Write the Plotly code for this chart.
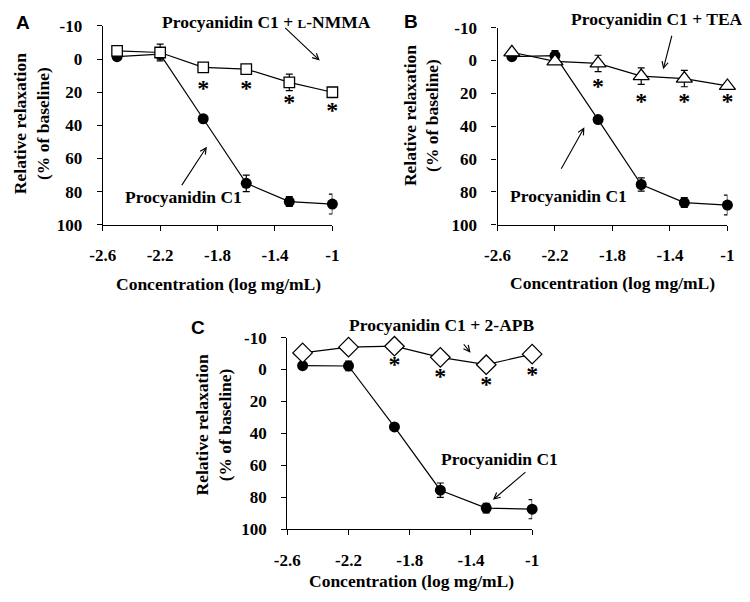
import plotly.graph_objects as go

# shared x positions (log mg/mL)
conc = [-2.5, -2.2, -1.9, -1.6, -1.3, -1.0]
sig_conc = [-1.9, -1.6, -1.3, -1.0]

# panel A
a_pc1 = [-1.5, -3, 36, 75, 86, 87.5]
a_pc1_err = [0, 3, 1.5, 5, 3, 6]
a_nmma = [-5, -4, 5, 6, 14, 20]
a_nmma_err = [0, 5, 2.5, 1, 5, 2.5]
a_sig = [18.5, 18.5, 27, 32]

# panel B
b_pc1 = [-2.3, -3, 36, 75.5, 86.5, 88]
b_pc1_err = [0, 3, 1.5, 4, 3, 6]
b_tea = [-5, 0.5, 1.8, 9.5, 11, 15.5]
b_tea_err = [0, 0, 5, 5, 5, 1]
b_sig = [17, 26, 26, 26]

# panel C
c_pc1 = [-2.4, -2.2, 36, 75.6, 86.8, 87.5]
c_pc1_err = [0, 3, 1.5, 4.5, 3, 6]
c_apb = [-10.4, -14, -14.6, -7.6, -3, -9.6]
c_apb_err = [2.5, 0, 2.5, 3, 2.5, 0]
c_sig = [-2, 5.6, 10.6, 4.4]

# the top tick sits one full step above 0 but is labelled -10 in the original
y_ticks = [-20, 0, 20, 40, 60, 80, 100]
y_ticktext = ["-10", "0", "20", "40", "60", "80", "100"]
x_ticks = [-2.6, -2.2, -1.8, -1.4, -1.0]
x_ticktext = ["-2.6", "-2.2", "-1.8", "-1.4", "-1"]

SERIF = "Liberation Serif, DejaVu Serif, serif"
SANS = "Liberation Sans, Arial, sans-serif"
# page body has an 8px margin, so work in window pixels and shift
OFF = 8
W, H = 742, 586


def px(x):
    return (x - OFF) / W


def py(y):
    return 1 - (y - OFF) / H


fig = go.Figure()


def add_panel(n, pc1, pc1_err, other, other_err, sym, sym_size, sig):
    xa = "x" if n == 1 else f"x{n}"
    ya = "y" if n == 1 else f"y{n}"
    fig.add_trace(go.Scatter(
        x=conc, y=pc1, xaxis=xa, yaxis=ya, mode="lines+markers", cliponaxis=False,
        line=dict(color="black", width=1.2),
        marker=dict(symbol="circle", size=11, color="black"),
        error_y=dict(type="data", array=pc1_err, color="black", thickness=1.2, width=3.5),
    ))
    fig.add_trace(go.Scatter(
        x=conc, y=other, xaxis=xa, yaxis=ya, mode="lines+markers", cliponaxis=False,
        line=dict(color="black", width=1.2),
        marker=dict(symbol=sym, size=sym_size, color="white", line=dict(color="black", width=1.3)),
        error_y=dict(type="data", array=other_err, color="black", thickness=1.2, width=3.5),
    ))
    fig.add_trace(go.Scatter(
        x=sig_conc, y=sig, xaxis=xa, yaxis=ya, mode="text", text=["*"] * len(sig),
        cliponaxis=False,
        textfont=dict(family=SERIF, size=24, color="#000000", weight="bold"),
    ))


add_panel(1, a_pc1, a_pc1_err, a_nmma, a_nmma_err, "square", 10.5, a_sig)
add_panel(2, b_pc1, b_pc1_err, b_tea, b_tea_err, "triangle-up", 14, b_sig)
add_panel(3, c_pc1, c_pc1_err, c_apb, c_apb_err, "diamond", 15, c_sig)

axis_common = dict(
    showgrid=False, zeroline=False, showline=True, linecolor="black", linewidth=1.3,
    ticks="outside", ticklen=5, tickcolor="black", tickwidth=1.3,
    tickfont=dict(family=SERIF, size=17, color="black", weight="bold"),
)

# plot areas in window pixels: (left, right, top, bottom)
boxes = {
    1: (92, 328, 17.3, 222.7),
    2: (497.7, 734, 19, 222.7),
    3: (281.7, 533.3, 339.3, 537.3),
}
for n, (l, r, t, b) in boxes.items():
    xk = "xaxis" if n == 1 else f"xaxis{n}"
    yk = "yaxis" if n == 1 else f"yaxis{n}"
    ya = "y" if n == 1 else f"y{n}"
    xa = "x" if n == 1 else f"x{n}"
    fig.update_layout({
        xk: dict(axis_common, domain=[px(l), px(r)], range=[-2.6, -1.0], anchor=ya,
                 tickvals=x_ticks, ticktext=x_ticktext, ticklabelstandoff=10),
        yk: dict(axis_common, domain=[py(b), py(t)], range=[100, -20], anchor=xa,
                 tickvals=y_ticks, ticktext=y_ticktext, ticklabelstandoff=11),
    })

ann = []


def text(x, y, s, size=17.5, angle=0, family=SERIF):
    ann.append(dict(x=px(x), y=py(y), xref="paper", yref="paper", text=s, showarrow=False,
                    textangle=angle, xanchor="center", yanchor="middle",
                    font=dict(family=family, size=size, color="black", weight="bold")))


def arrow(x0, y0, x1, y1):
    ann.append(dict(x=px(x1), y=py(y1), xref="paper", yref="paper", ax=x0 - x1, ay=y0 - y1,
                    axref="pixel", ayref="pixel", text="", showarrow=True,
                    arrowhead=5, arrowsize=1.1, arrowwidth=1.1, arrowcolor="black"))


# panel letters
text(10, 13.5, "A", size=19, family=SANS)
text(409, 12.5, "B", size=19, family=SANS)
text(190, 329, "C", size=19, family=SANS)

# axis titles
for cx, cy in [(211, 284), (616, 283), (409, 591)]:
    text(cx, cy, "Concentration (log mg/mL)")
for cx, cy in [(19, 118), (419.5, 110), (205.5, 430)]:
    text(cx, cy, "Relative relaxation<br>(% of baseline)", angle=-90)

# labels and arrows
text(260, 13, "Procyanidin C1 + <span style='font-size:13px'>L</span>-NMMA")
arrow(279, 19, 315, 53)
text(175, 194, "Procyanidin C1")
arrow(173, 182, 199, 142)

text(662, 10, "Procyanidin C1 + TEA")
arrow(677, 27, 668, 62)
text(571, 193, "Procyanidin C1")
arrow(563, 165, 587, 122)

text(440, 326, "Procyanidin C1 + 2-APB")
arrow(462, 345, 470, 355)
text(500, 465, "Procyanidin C1")
arrow(527, 478, 493, 507)

fig.update_layout(
    width=W, height=H, margin=dict(l=0, r=0, t=0, b=0),
    paper_bgcolor="white", plot_bgcolor="white", showlegend=False,
    annotations=ann,
)

fig.write_html("out.html")
